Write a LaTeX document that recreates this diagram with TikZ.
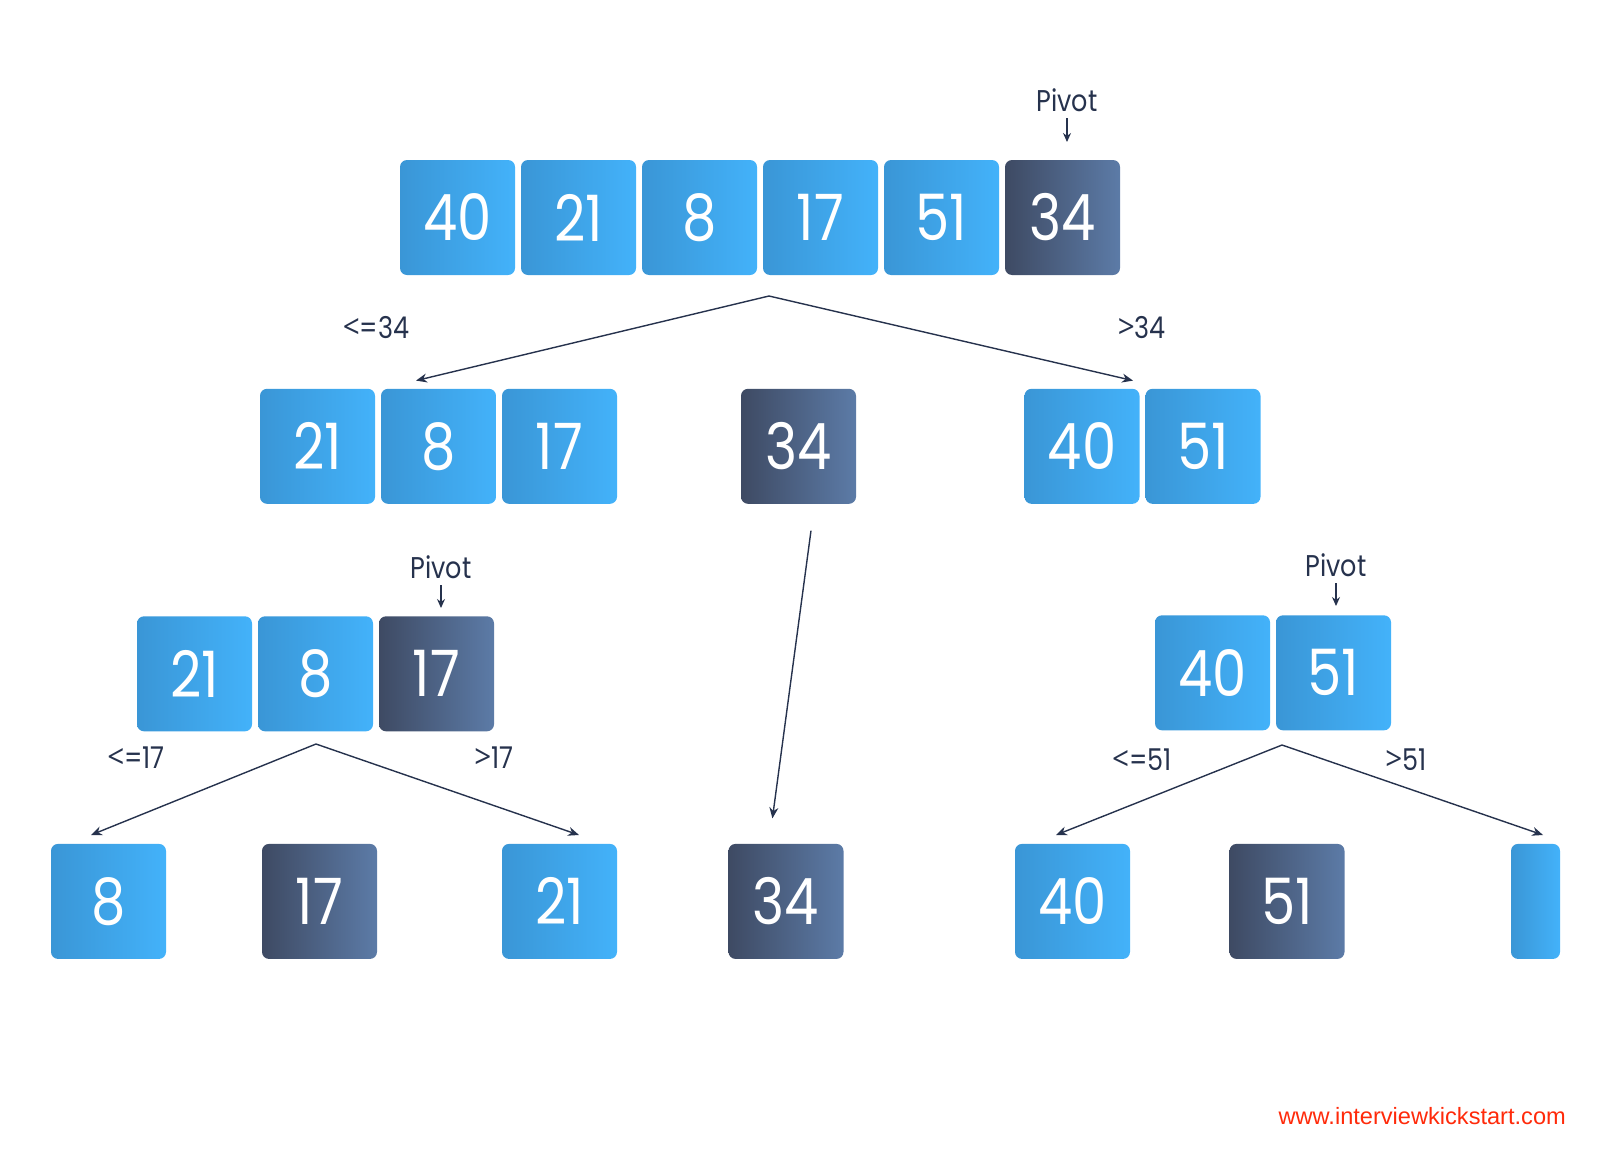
\documentclass[tikz,border=0pt]{standalone}
\usepackage{fontspec}
\setmainfont{Poppins}[FakeStretch=0.85]
\newfontfamily\urlfont{Liberation Sans}
\newfontfamily\symf{Open Sans}[FakeStretch=0.9]
\newcommand\mylt{{\symf\fontsize{33}{33}\selectfont <}}
\newcommand\mygt{{\symf\fontsize{33}{33}\selectfont >}}
\usetikzlibrary{arrows.meta}
\definecolor{bluel}{HTML}{3A96D6}
\definecolor{bluer}{HTML}{43B2FA}
\definecolor{darkl}{HTML}{3E4A63}
\definecolor{darkr}{HTML}{5C7BA7}
\definecolor{navy}{HTML}{26324D}
\definecolor{urlred}{HTML}{FF2A0A}
\tikzset{
  cell/.style={rounded corners=7pt, minimum width=115pt, minimum height=115pt,
    inner sep=0pt, text=white, font=\fontsize{64}{64}\selectfont},
  bluecell/.style={cell, left color=bluel, right color=bluer},
  darkcell/.style={cell, left color=darkl, right color=darkr},
  lbl/.style={text=navy, font=\fontsize{30}{30}\selectfont, inner sep=0pt},
  conn/.style={draw=navy, line width=1.4pt, -{Stealth[length=11pt,width=9pt]}},
  piv/.style={draw=navy, line width=1.3pt, -{Stealth[length=9pt,width=8pt]}},
}
\begin{document}
\begin{tikzpicture}[x=1pt,y=-1pt]
\useasboundingbox (0,0) rectangle (1600,1151);
% top row
\node[bluecell] (a1) at (457.5,217.5) {40};
\node[bluecell] (a2) at (578.5,217.5) {21};
\node[bluecell] (a3) at (699.5,217.5) {8};
\node[bluecell] (a4) at (820.5,217.5) {17};
\node[bluecell] (a5) at (941.5,217.5) {51};
\node[darkcell] (a6) at (1062.5,217.5) {34};
\node[lbl] (p1) at (1067,100) {Pivot};
\coordinate (p1s) at (1067,118);
\coordinate (p1e) at (1067,142);
\draw[piv] (p1s) -- (p1e);
% split 1
\coordinate (t1) at (769,296);
\coordinate (t1l) at (416,380.6);
\coordinate (t1r) at (1133,380.6);
\draw[conn] (t1) -- (t1l);
\draw[conn] (t1) -- (t1r);
\node[lbl] (l1) at (376,328) {\mylt=34};
\node[lbl] (r1) at (1142,328) {\mygt34};
% row 2
\node[bluecell] (b1) at (317.5,446.3) {21};
\node[bluecell] (b2) at (438.5,446.3) {8};
\node[bluecell] (b3) at (559.5,446.3) {17};
\node[darkcell] (b4) at (798.5,446.3) {34};
\node[bluecell] (b5) at (1082,446.3) {40};
\node[bluecell] (b6) at (1203,446.3) {51};
\coordinate (m1) at (811,530.6);
\coordinate (m2) at (772.4,818.4);
\draw[conn] (m1) -- (m2);
% row 3 left
\node[lbl] (p2) at (441,567) {Pivot};
\coordinate (p2s) at (441,585);
\coordinate (p2e) at (441,608);
\draw[piv] (p2s) -- (p2e);
\node[bluecell] (c1) at (194.5,673.8) {21};
\node[bluecell] (c2) at (315.5,673.8) {8};
\node[darkcell] (c3) at (436.5,673.8) {17};
\coordinate (t2) at (316,744);
\coordinate (t2l) at (91,835);
\coordinate (t2r) at (579,835);
\draw[conn] (t2) -- (t2l);
\draw[conn] (t2) -- (t2r);
\node[lbl] (l2) at (136,758) {\mylt=17};
\node[lbl] (r2) at (494,758) {\mygt17};
% row 3 right
\node[lbl] (p3) at (1336,565) {Pivot};
\coordinate (p3s) at (1336,583);
\coordinate (p3e) at (1336,606);
\draw[piv] (p3s) -- (p3e);
\node[bluecell] (d1) at (1212.5,672.8) {40};
\node[bluecell] (d2) at (1333.5,672.8) {51};
\coordinate (t3) at (1282,745);
\coordinate (t3l) at (1056,835);
\coordinate (t3r) at (1543,835);
\draw[conn] (t3) -- (t3l);
\draw[conn] (t3) -- (t3r);
\node[lbl] (l3) at (1142,760) {\mylt=51};
\node[lbl] (r3) at (1406,760) {\mygt51};
% row 4
\node[bluecell] (e1) at (108.5,901.4) {8};
\node[darkcell] (e2) at (319.5,901.4) {17};
\node[bluecell] (e3) at (559.5,901.4) {21};
\node[darkcell] (e4) at (786,901.4) {34};
\node[bluecell] (e5) at (1072.5,901.4) {40};
\node[darkcell] (e6) at (1287,901.4) {51};
\node[bluecell, minimum width=49pt] (e7) at (1535.5,901.4) {};
% url
\node[anchor=east, text=urlred, inner sep=0pt, font=\urlfont\fontsize{23.6}{24}\selectfont] (url) at (1566,1116) {www.interviewkickstart.com};
\end{tikzpicture}
\end{document}
